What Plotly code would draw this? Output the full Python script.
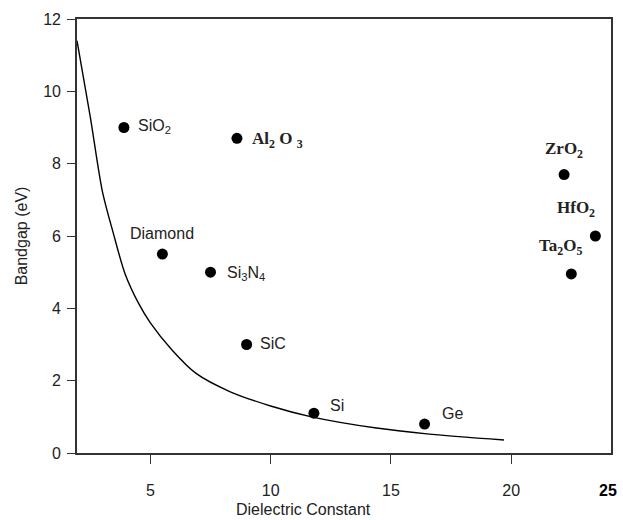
import plotly.graph_objects as go

# Materials (dielectric constant, bandgap eV)
materials = ["SiO2", "Al2O3", "Diamond", "Si3N4", "SiC", "Si", "Ge", "ZrO2", "HfO2", "Ta2O5"]
k_values = [3.9, 8.6, 5.5, 7.5, 9.0, 11.8, 16.4, 22.2, 23.5, 22.5]
gap_values = [9.0, 8.7, 5.5, 5.0, 3.0, 1.1, 0.8, 7.7, 6.0, 4.95]
label_texts = ["SiO<sub>2</sub>", "Al<sub>2</sub> O <sub>3</sub>", "Diamond", "Si<sub>3</sub>N<sub>4</sub>",
               "SiC", "Si", "Ge", "ZrO<sub>2</sub>", "HfO<sub>2</sub>", "Ta<sub>2</sub>O<sub>5</sub>"]

# Trend curve
curve_k = [1.95, 2.5, 3.0, 3.45, 3.95, 4.5, 5.0, 5.9, 6.9, 8.3, 10.0, 11.7, 14.4, 16.5, 19.7]
curve_gap = [11.4, 9.3, 7.25, 6.1, 4.95, 4.15, 3.6, 2.85, 2.2, 1.7, 1.3, 1.0, 0.69, 0.53, 0.36]

x_ticks = [5, 10, 15, 20]
y_ticks = [0, 2, 4, 6, 8, 10, 12]

sans = "Liberation Sans, Arial, sans-serif"
serif = "Liberation Serif, Times New Roman, serif"

# label style: (xanchor, xshift, yshift, font family)
label_style = {
    "SiO2": ("left", 12, 1, sans),
    "Al2O3": ("left", 13, -2, serif),
    "Diamond": ("center", 0, 21, sans),
    "Si3N4": ("left", 14, -1, sans),
    "SiC": ("left", 11, 1, sans),
    "Si": ("left", 14, 8, sans),
    "Ge": ("left", 15, 11, sans),
    "ZrO2": ("center", 0, 25, serif),
    "HfO2": ("center", -19, 27, serif),
    "Ta2O5": ("center", -11, 27, serif),
}

fig = go.Figure()
fig.add_trace(go.Scatter(x=curve_k, y=curve_gap, mode="lines",
                         line=dict(color="black", width=1.4, shape="spline", smoothing=0.8),
                         hoverinfo="skip", showlegend=False))
fig.add_trace(go.Scatter(x=k_values, y=gap_values, mode="markers",
                         marker=dict(color="black", size=11),
                         text=materials, showlegend=False))

for name, kx, gy, txt in zip(materials, k_values, gap_values, label_texts):
    anchor, xs, ys, fam = label_style[name]
    if fam == serif:
        txt = "<b>" + txt + "</b>"
        size = 17
    else:
        size = 16
    fig.add_annotation(x=kx, y=gy, xref="x", yref="y", text=txt, showarrow=False,
                       xanchor=anchor, yanchor="middle", xshift=xs, yshift=ys,
                       font=dict(family=fam, size=size, color="#222"))

fig.add_annotation(x=0.995, y=-0.087, xref="paper", yref="paper", text="<b>25</b>",
                   showarrow=False, xanchor="center", yanchor="middle",
                   font=dict(family=sans, size=16, color="black"))
fig.add_annotation(x=0.425, y=-0.131, xref="paper", yref="paper", text="Dielectric Constant",
                   showarrow=False, xanchor="center", yanchor="middle",
                   font=dict(family=sans, size=16, color="#222"))

fig.update_layout(
    width=623, height=520,
    margin=dict(l=77, r=10, t=19, b=67),
    plot_bgcolor="white", paper_bgcolor="white",
    font=dict(family=sans, size=16, color="#222"),
)
fig.update_xaxes(range=[1.95, 24.15], tickvals=x_ticks, ticks="outside", ticklen=9,
                 tickcolor="#333", tickwidth=1.3, showgrid=False, zeroline=False,
                 showline=True, linecolor="#333", linewidth=1.6, mirror=True,
                 tickfont=dict(size=16, family=sans), ticklabelstandoff=13)
fig.update_yaxes(range=[0, 12], tickvals=y_ticks, ticks="outside", ticklen=8,
                 tickcolor="#333", tickwidth=1.3, showgrid=False, zeroline=False,
                 showline=True, linecolor="#333", linewidth=1.6, mirror=True,
                 tickfont=dict(size=16, family=sans), ticklabelstandoff=3,
                 title=dict(text="Bandgap (eV)", font=dict(size=16, family=sans), standoff=12))

fig.write_html("out.html")
